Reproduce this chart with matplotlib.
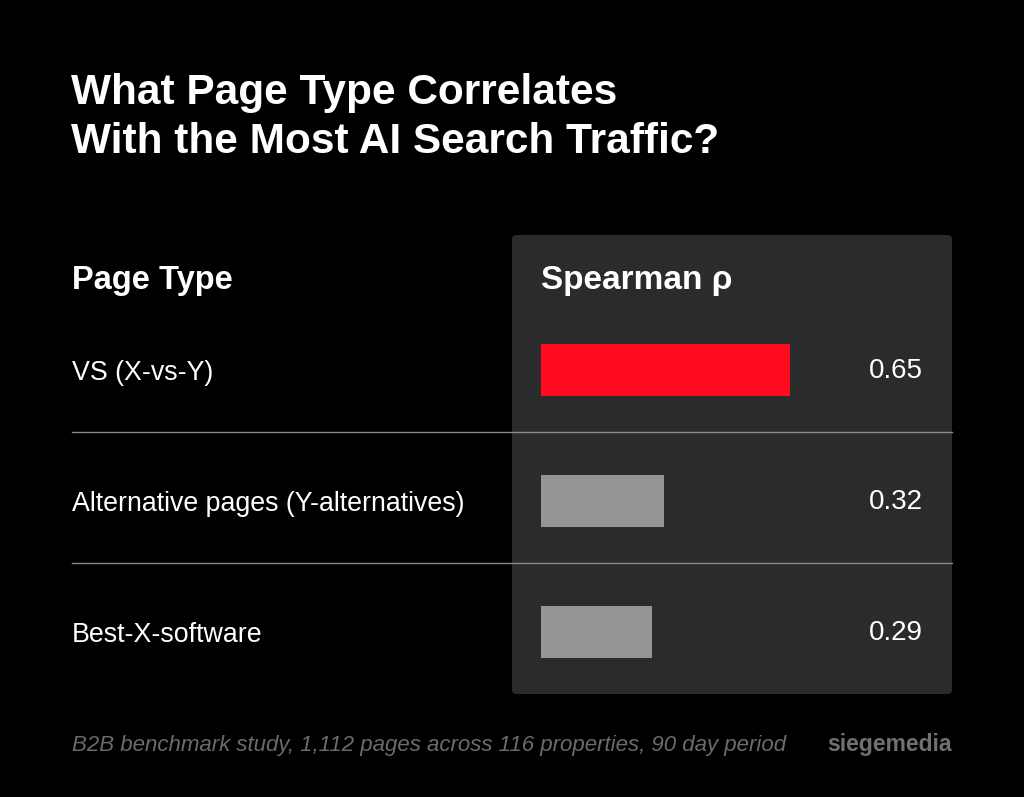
import matplotlib.pyplot as plt
from matplotlib.patches import FancyBboxPatch

# data
page_types = ["VS (X-vs-Y)", "Alternative pages (Y-alternatives)", "Best-X-software"]
spearman = [0.65, 0.32, 0.29]
bar_colors = ["#ff0a1e", "#959595", "#959595"]

title = "What Page Type Correlates\nWith the Most AI Search Traffic?"
col_left = "Page Type"
col_right = "Spearman ρ"
note = "B2B benchmark study, 1,112 pages across 116 properties, 90 day period"
brand = "siegemedia"

W, H = 1024, 797
FONT = "Liberation Sans"

fig = plt.figure(figsize=(W / 100, H / 100), dpi=100, facecolor="black")

# background layer in pixel coordinates
bg = fig.add_axes([0, 0, 1, 1])
bg.set_xlim(0, W)
bg.set_ylim(H, 0)
bg.axis("off")

panel = FancyBboxPatch((512, 235), 440, 459, boxstyle="round,pad=0,rounding_size=4",
                       facecolor="#2a2b2d", edgecolor="none")
bg.add_patch(panel)

bg.text(71, 73, title, color="white", fontsize=30.5, fontweight="bold", family=FONT,
        va="top", ha="left", linespacing=1.3)
bg.text(72, 280, col_left, color="white", fontsize=23.5, fontweight="bold", family=FONT,
        va="center", ha="left")
bg.text(541, 280, col_right, color="white", fontsize=24, fontweight="bold", family=FONT,
        va="center", ha="left")

row0, row_step = 370, 131
for i, name in enumerate(page_types):
    bg.text(72, row0 + i * row_step + 3, name, color="white", fontsize=19.3, family=FONT,
            va="center", ha="left")
for i in range(len(page_types) - 1):
    y = row0 + (i + 0.5) * row_step - 3.5
    bg.plot([72, 952], [y, y], color="#8a8a8a", lw=1)

bg.text(72, 746, note, color="#6b6b6b", fontsize=16, style="italic", family=FONT,
        va="center", ha="left")
bg.text(952, 745, brand, color="#707070", fontsize=16.5, fontweight="bold", family=FONT,
        va="center", ha="right")

# bar axes
px_per_unit = 383
left, right = 541, 541 + px_per_unit
top, bottom = row0 - row_step / 2, row0 + 2.5 * row_step
ax = fig.add_axes([left / W, 1 - bottom / H, (right - left) / W, (bottom - top) / H])
ax.set_xlim(0, 1)
ax.set_ylim(len(page_types) - 0.5, -0.5)
ax.axis("off")
ax.patch.set_alpha(0)

ax.barh(range(len(spearman)), spearman, height=0.40, color=bar_colors)
for i, v in enumerate(spearman):
    ax.text(0.997, i + 0.01, f"{v:.2f}", color="white", fontsize=20, family=FONT,
            va="center", ha="right")

fig.savefig("out.png", dpi=100, facecolor="black")
